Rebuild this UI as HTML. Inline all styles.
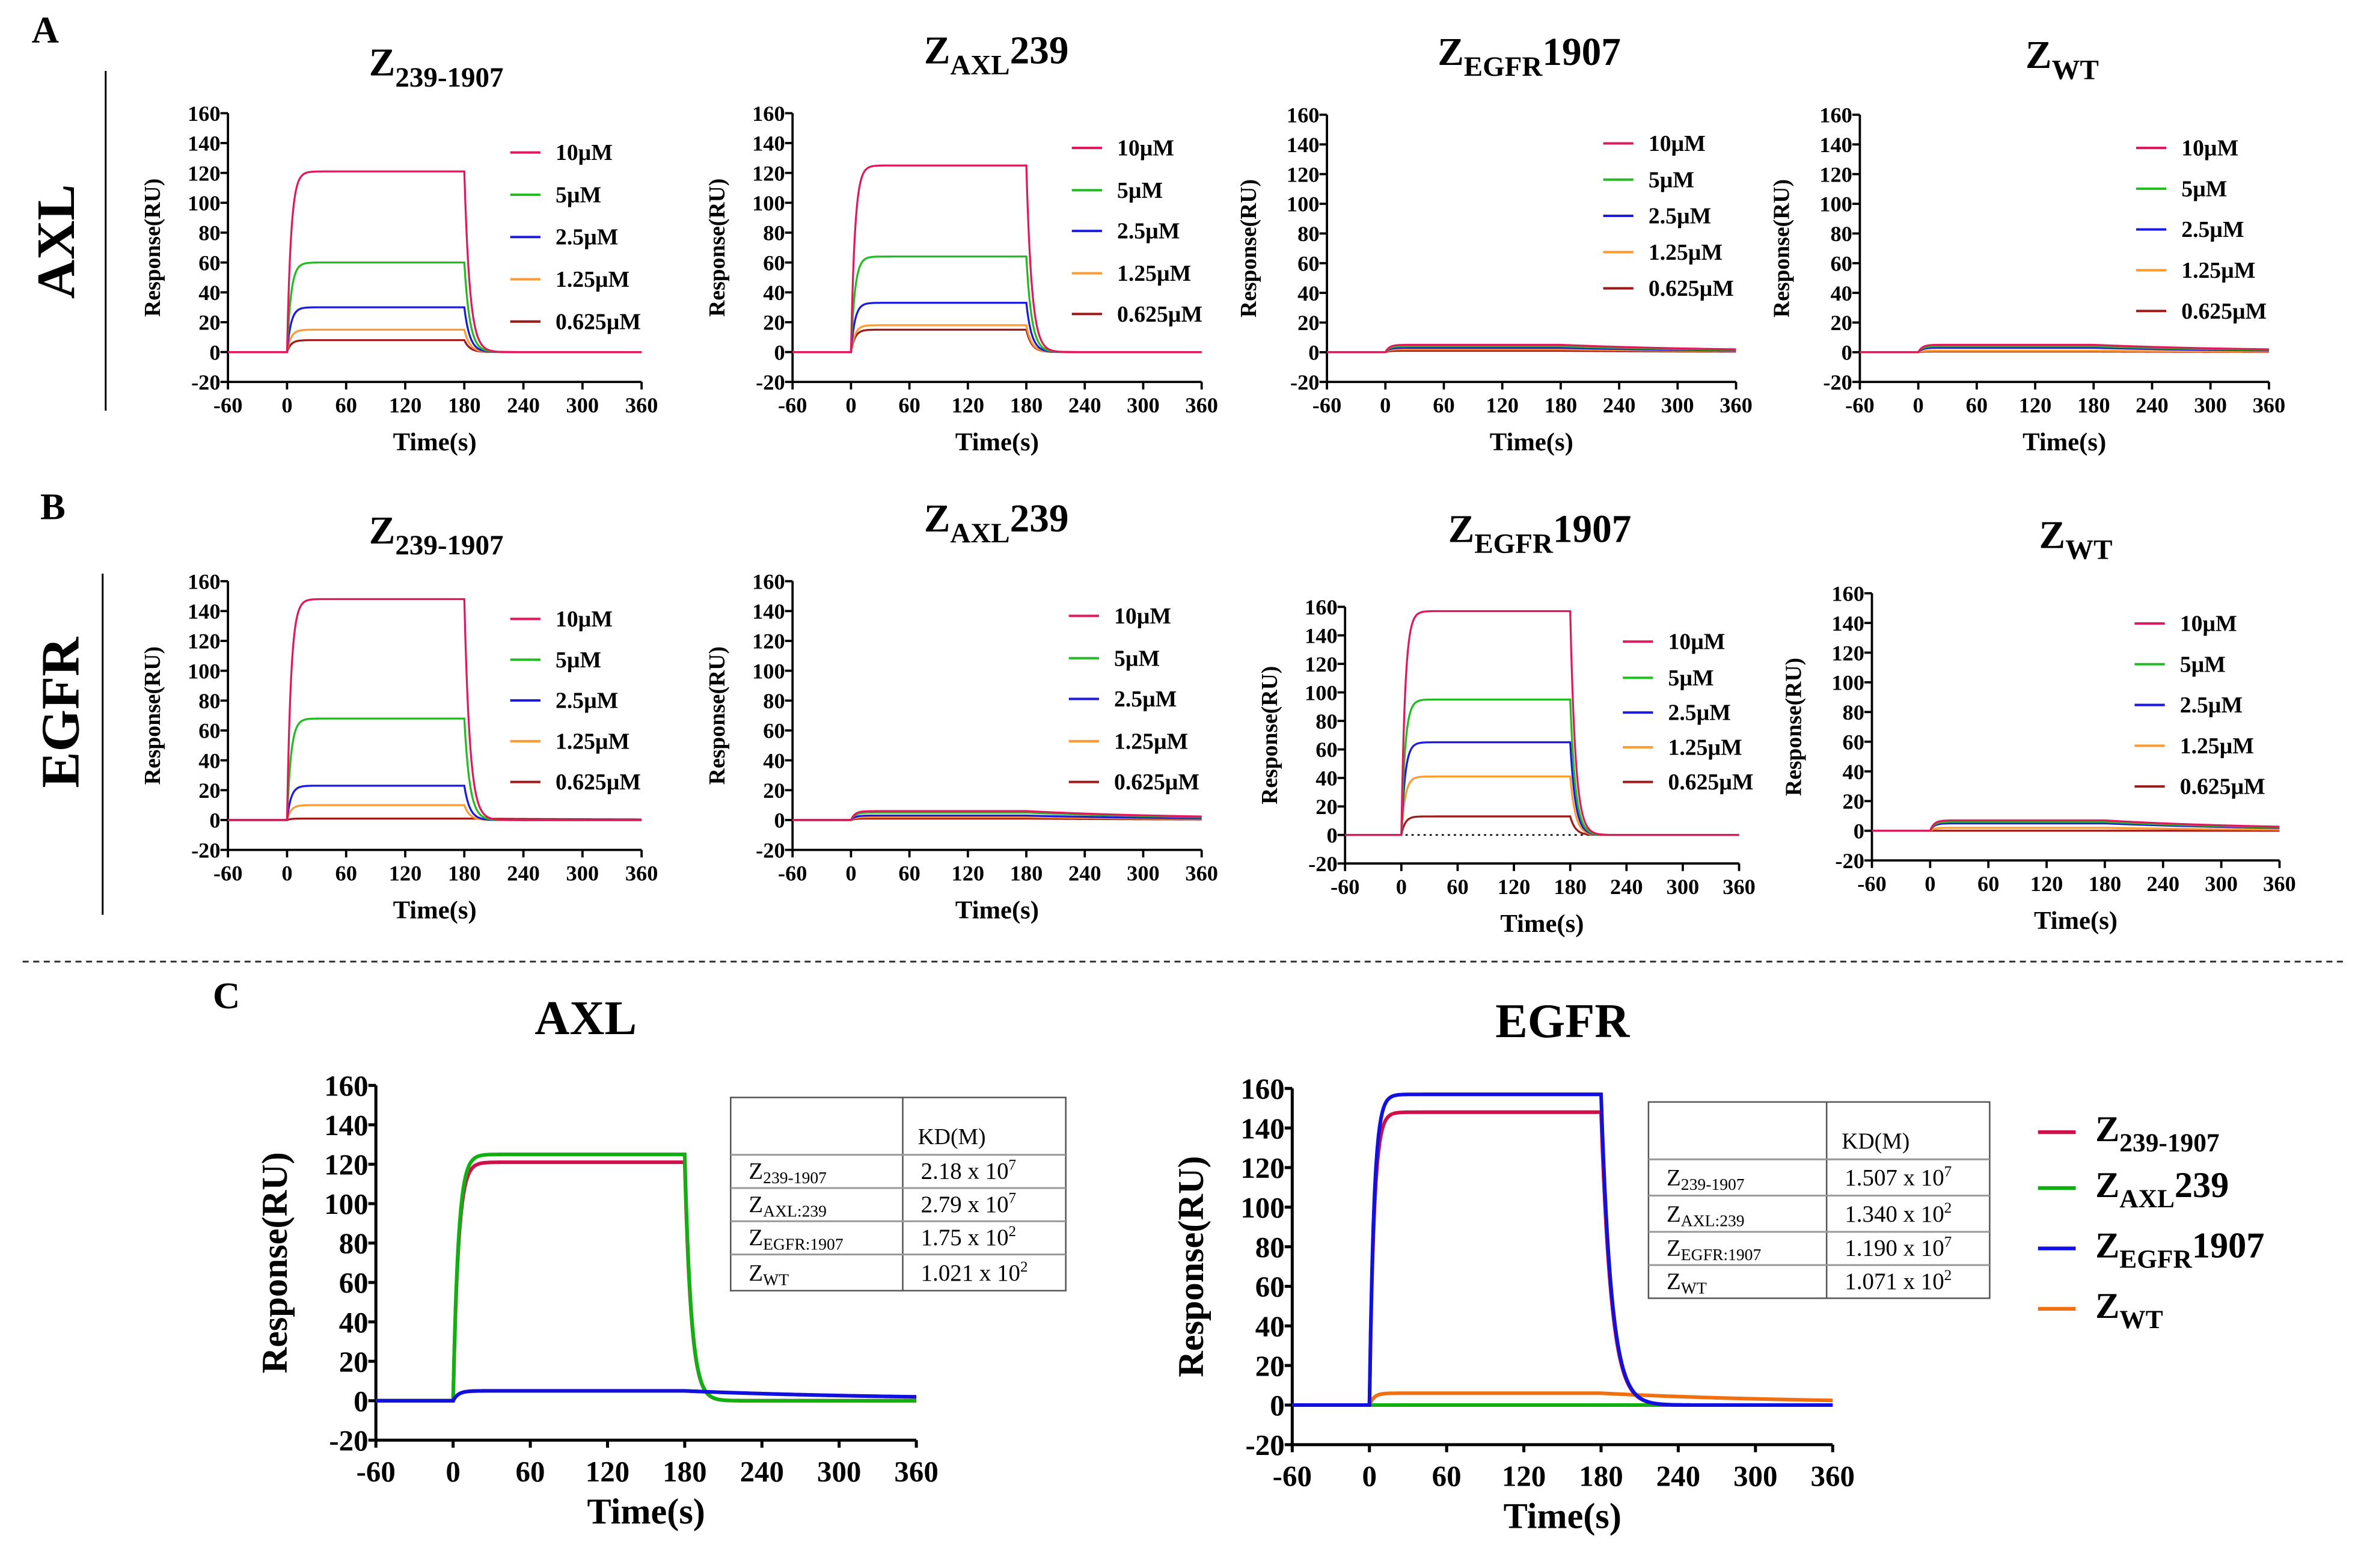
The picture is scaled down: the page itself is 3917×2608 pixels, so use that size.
<!DOCTYPE html>
<html><head><meta charset="utf-8">
<style>
html,body{margin:0;padding:0;background:#fff;}
svg{display:block;font-family:"Liberation Serif",serif;}
</style></head>
<body>
<svg id="fig" width="3917" height="2608" viewBox="0 0 1560 1038.7" preserveAspectRatio="none" xmlns="http://www.w3.org/2000/svg"></svg>
<script>
const NS="http://www.w3.org/2000/svg";
const svg=document.getElementById('fig');
// ---- data ----
const xTicks=[-60,0,60,120,180,240,300,360];
const yTicks=[-20,0,20,40,60,80,100,120,140,160];
const concLabels=["10µM","5µM","2.5µM","1.25µM","0.625µM"];
const concColors=["#e0195c","#22bb22","#1a1ae0","#ff9a30","#a01818"];
const plateauA1=[121,60,30,15,8];
const plateauA2=[125,64,33,18,15];
const plateauA3=[5,4,3,2,1];
const plateauA4=[5,4,3,1,0.5];
const plateauB1=[148,68,23,10,1];
const plateauB2=[6,5,3,2,1];
const plateauB3=[157,95,65,41,13];
const plateauB4=[7,6,5,2,0];
const cSeriesLabels=["Z239-1907","ZAXL239","ZEGFR1907","ZWT"];
const cColors=["#d0104a","#10b010","#1010e0","#f07010"];
const plateauCAXL=[121,125,5,5];
const plateauCEGFR=[148,0,157,6];
const kdRowsAXL=["2.18 x 10","2.79 x 10","1.75 x 10","1.021 x 10"];
const kdExpAXL=["7","7","2","2"];
const kdRowsEGFR=["1.507 x 10","1.340 x 10","1.190 x 10","1.071 x 10"];
const kdExpEGFR=["7","2","7","2"];

function mk(tag,attrs,parent){const e=document.createElementNS(NS,tag);for(const k in attrs)e.setAttribute(k,attrs[k]);(parent||svg).appendChild(e);return e;}
function txt(s,x,y,size,attrs,parent){const t=mk('text',Object.assign({x:x,y:y,'font-size':size,'font-weight':'bold','text-anchor':'middle'},attrs||{}),parent);t.textContent=s;return t;}
function subTitle(main,sub,tail,cx,y,size,parent){
  const t=mk('text',{x:cx,y:y,'font-size':size,'font-weight':'bold','text-anchor':'middle'},parent);
  const a=mk('tspan',{},t);a.textContent=main;
  const b=mk('tspan',{dy:size*0.28,'font-size':size*0.72},t);b.textContent=sub;
  if(tail){const c=mk('tspan',{dy:-size*0.28},t);c.textContent=tail;}
  return t;
}
function curve(plateau,ton,toff,residual){
  const pts=[];
  for(let t=-60;t<=360;t+=1){
    let v;
    if(t<0)v=0;
    else if(t<=180)v=plateau*(1-Math.exp(-t/ton));
    else{const p=plateau*(1-Math.exp(-180/ton));v=residual*p+(1-residual)*p*Math.exp(-(t-180)/toff);}
    pts.push([t,v]);
  }
  return pts;
}
function panel(cfg){
  const g=mk('g',{});
  
  
  const sx=v=>cfg.x0+(v+60)/420*(cfg.x1-cfg.x0);
  const sy=v=>cfg.yb-(v+20)/180*(cfg.yb-cfg.yt);
  const fs=cfg.fs||14.5;
  const ya=mk('line',{x1:sx(-60),y1:cfg.yt,x2:sx(-60),y2:cfg.yb,stroke:'#000','stroke-width':cfg.sw||1.5},g);
  
  
  const xa=mk('line',{x1:sx(-60),y1:cfg.yb,x2:sx(360),y2:cfg.yb,stroke:'#000','stroke-width':cfg.sw||1.5},g);
  
  
  yTicks.forEach(v=>{mk('line',{x1:sx(-60)-5,y1:sy(v),x2:sx(-60),y2:sy(v),stroke:'#000','stroke-width':cfg.sw||1.5},g);
    const t=txt(String(v),sx(-60)-5,sy(v)+fs*0.35,fs,{'text-anchor':'end'},g);
    
    });
  xTicks.forEach(v=>{mk('line',{x1:sx(v),y1:cfg.yb,x2:sx(v),y2:cfg.yb+5,stroke:'#000','stroke-width':cfg.sw||1.5},g);
    const t=txt(String(v),sx(v),cfg.yb+fs*1.4,fs,{},g);
    
    });
  const yl=txt('Response(RU)',0,0,cfg.lfs||15,{transform:`translate(${cfg.ylx},${(cfg.yt+cfg.yb)/2}) rotate(-90)`},g);
  
  
  const xl=txt('Time(s)',(sx(-60)+sx(360))/2,cfg.yb+fs*1.4+(cfg.xlgap||25),cfg.tfs||17,{},g);
  
  
  if(cfg.dotted){const d=mk('line',{x1:sx(-60),y1:sy(0),x2:sx(360),y2:sy(0),stroke:'#000','stroke-width':1,'stroke-dasharray':'1.5,2.5'},g);
    
    }
  const order=cfg.order||cfg.values.map((_,i)=>i).reverse();
  order.forEach(i=>{
    const v=cfg.values[i];
    const bind=v>=8;
    const pts=curve(v,cfg.ton||4,bind?(cfg.toff||5.5):160,bind?0:0.1);
    const p=mk('path',{d:pts.map((q,k)=>(k?'L':'M')+sx(q[0]).toFixed(2)+','+sy(q[1]).toFixed(2)).join(''),fill:'none',stroke:cfg.colors[i],'stroke-width':cfg.lw||1.3},g);
    
    
  });
  if(cfg.legY){
    cfg.labels.forEach((lab,i)=>{
      const lg=mk('g',{},g);
      
      
      mk('line',{x1:cfg.legX,y1:cfg.legY[i],x2:cfg.legX+20,y2:cfg.legY[i],stroke:cfg.colors[i],'stroke-width':1.6},lg);
      txt(lab,cfg.legX+30,cfg.legY[i]+5,15,{'text-anchor':'start'},lg);
    });
  }
  return g;
}
[['A',30,28],['B',35,344],['C',150,668]].forEach(a=>{const t=txt(a[0],a[1],a[2],25);
  
  });
const r1=txt('AXL',0,0,36,{transform:'translate(49,160) rotate(-90)'});


const r2=txt('EGFR',0,0,36,{transform:'translate(52,472) rotate(-90)'});


const v1=mk('line',{x1:70,y1:47,x2:70,y2:272,stroke:'#000','stroke-width':1.2});


const v2=mk('line',{x1:68,y1:380,x2:68,y2:606,stroke:'#000','stroke-width':1.2});


const dl=mk('line',{x1:15,y1:637,x2:1555,y2:637,stroke:'#333','stroke-width':1.2,'stroke-dasharray':'4,3'});


const titles=[['Z','239-1907','',289,50],['Z','AXL','239',660,42],['Z','EGFR','1907',1013,43],['Z','WT','',1366,45],
['Z','239-1907','',289,360],['Z','AXL','239',660,352],['Z','EGFR','1907',1020,359],['Z','WT','',1375,363]];
titles.forEach((t,i)=>{const e=subTitle(t[0],t[1],t[2],t[3],t[4],26);
  
  });
const small=[
 {name:'panel-a1',x0:151,x1:425,yt:75,yb:253,ylx:106,legX:338,legY:[101,129,157,185,213],values:plateauA1},
 {name:'panel-a2',x0:525,x1:796,yt:75,yb:253,ylx:480,legX:710,legY:[98,126,153,181,208],values:plateauA2},
 {name:'panel-a3',x0:879,x1:1150,yt:76,yb:253,ylx:832,legX:1062,legY:[95,119,143,167,191],values:plateauA3},
 {name:'panel-a4',x0:1232,x1:1503,yt:76,yb:253,ylx:1185,legX:1415,legY:[98,125,152,179,206],values:plateauA4},
 {name:'panel-b1',x0:151,x1:425,yt:385,yb:563,ylx:106,legX:338,legY:[410,437,464,491,518],values:plateauB1},
 {name:'panel-b2',x0:525,x1:796,yt:385,yb:563,ylx:480,legX:708,legY:[408,436,463,491,518],values:plateauB2},
 {name:'panel-b3',x0:891,x1:1152,yt:402,yb:572,ylx:846,legX:1075,legY:[425,449,472,495,518],values:plateauB3,dotted:true},
 {name:'panel-b4',x0:1240,x1:1510,yt:393,yb:570,ylx:1193,legX:1414,legY:[413,440,467,494,521],values:plateauB4}
];
small.forEach(c=>{c.labels=concLabels;c.colors=concColors;panel(c);});
const cAT=txt('AXL',388,685,32);


const cET=txt('EGFR',1035,687,32);


panel({name:'panel-c-axl',x0:249,x1:607,yt:719,yb:954,ylx:190,fs:19.5,lfs:24,tfs:24,xlgap:28,sw:2,lw:2.4,values:plateauCAXL,labels:cSeriesLabels,colors:cColors,ton:4,toff:5,order:[3,0,1,2]});
panel({name:'panel-c-egfr',x0:856,x1:1214,yt:721,yb:957,ylx:797,fs:19.5,lfs:24,tfs:24,xlgap:28,sw:2,lw:2.4,values:plateauCEGFR,labels:cSeriesLabels,colors:cColors,ton:3.5,toff:8,order:[3,1,0,2]});
const cLeg=[['Z','239-1907',''],['Z','AXL','239'],['Z','EGFR','1907'],['Z','WT','']];
const cLegY=[752,789,829,869];
cLeg.forEach((l,i)=>{const g=mk('g',{});
  
  
  mk('line',{x1:1350,y1:cLegY[i]-2,x2:1375,y2:cLegY[i]-2,stroke:cColors[i],'stroke-width':2.5},g);
  const t=subTitle(l[0],l[1],l[2],0,cLegY[i]+4,24,g);t.setAttribute('text-anchor','start');t.setAttribute('x',1388);});
function table(name,x0,x1,xd,rowsY,names,vals,exps){
  const g=mk('g',{});
  
  
  mk('rect',{x:x0,y:rowsY[0],width:x1-x0,height:rowsY[5]-rowsY[0],fill:'#fff',stroke:'#555','stroke-width':1},g);
  mk('line',{x1:xd,y1:rowsY[0],x2:xd,y2:rowsY[5],stroke:'#555','stroke-width':1},g);
  for(let i=1;i<5;i++)mk('line',{x1:x0,y1:rowsY[i],x2:x1,y2:rowsY[i],stroke:'#999','stroke-width':1.2},g);
  const h=mk('text',{x:xd+10,y:rowsY[1]-7,'font-size':15,'text-anchor':'start'},g);h.textContent='KD(M)';
  names.forEach((n,i)=>{const y=rowsY[i+1]+(rowsY[i+2]-rowsY[i+1])*0.72;
    const t=mk('text',{x:x0+12,y:y,'font-size':15.5},g);
    const a=mk('tspan',{},t);a.textContent='Z';
    const b=mk('tspan',{dy:3,'font-size':11},t);b.textContent=n;
    const v=mk('text',{x:xd+12,y:y,'font-size':15.5},g);
    const c=mk('tspan',{},v);c.textContent=vals[i];
    const d=mk('tspan',{dy:-6,'font-size':10},v);d.textContent=exps[i];
  });
}
table('kd-table-axl',484,706,598,[727,765,787,809,831,855],['239-1907','AXL:239','EGFR:1907','WT'],kdRowsAXL,kdExpAXL);
table('kd-table-egfr',1092,1318,1210,[730,768,792,816,838,860],['239-1907','AXL:239','EGFR:1907','WT'],kdRowsEGFR,kdExpEGFR);
</script>
</body></html>
